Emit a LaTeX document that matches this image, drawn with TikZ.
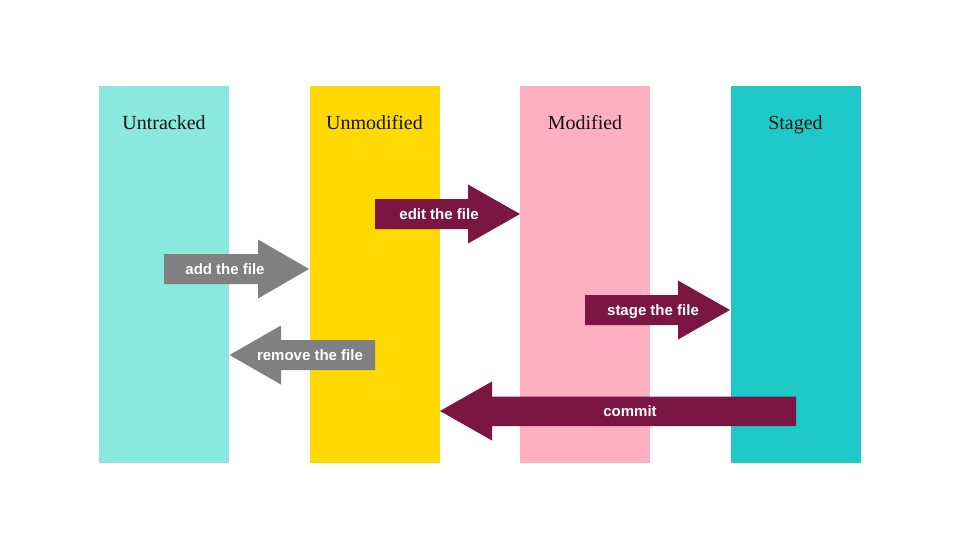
\documentclass[tikz,border=0pt]{standalone}
\usepackage{fontspec}
\setmainfont{Liberation Serif}
\newfontfamily\labfont{Liberation Sans}
\definecolor{cUntracked}{HTML}{88E9DC}
\definecolor{cUnmod}{HTML}{FFD900}
\definecolor{cMod}{HTML}{FFAFC2}
\definecolor{cStaged}{HTML}{1EC9C8}
\definecolor{cMaroon}{HTML}{7B1642}
\definecolor{cGray}{HTML}{808080}
\definecolor{cTitle}{HTML}{141414}
\begin{document}
\begin{tikzpicture}[x=1pt,y=-1pt,
  column/.style={rectangle,minimum width=130pt,minimum height=377pt,inner sep=0pt,draw=none},
  title/.style={font=\fontsize{20}{23}\selectfont,text=cTitle,inner sep=0pt,anchor=base},
  arrowlab/.style={font=\labfont\bfseries\fontsize{15}{17}\selectfont,text=white,inner sep=0pt,anchor=base},
  maroonarrow/.style={fill=cMaroon,draw=none},
  grayarrow/.style={fill=cGray,draw=none}]
\useasboundingbox (0,0) rectangle (960,550);
\fill[white] (0,0) rectangle (960,550);
% columns
\node[column,fill=cUntracked] (untracked) at (164,274.5) {};
\node[column,fill=cUnmod] (unmod) at (374.5,274.5) {};
\node[column,fill=cMod] (mod) at (585,274.5) {};
\node[column,fill=cStaged] (staged) at (795.5,274.5) {};
\node[title] (tUntracked) at (164,129.5) {Untracked};
\node[title] (tUnmod) at (374.5,129.5) {Unmodified};
\node[title] (tMod) at (585,129.5) {Modified};
\node[title] (tStaged) at (795.5,129.5) {Staged};
% add the file
\path[grayarrow] (164,254) -- (258,254) -- (258,239.5) -- (309,269) -- (258,298.5) -- (258,284) -- (164,284) -- cycle;
\node[arrowlab] (lAdd) at (225,274.3) {add the file};
% remove the file
\path[grayarrow] (375,340) -- (281,340) -- (281,325.5) -- (229.5,355) -- (281,384.5) -- (281,370) -- (375,370) -- cycle;
\node[arrowlab] (lRemove) at (310,360.3) {remove the file};
% edit the file
\path[maroonarrow] (375,199) -- (468,199) -- (468,184.5) -- (520,214) -- (468,243.5) -- (468,229) -- (375,229) -- cycle;
\node[arrowlab] (lEdit) at (439,219.3) {edit the file};
% stage the file
\path[maroonarrow] (585,295) -- (678,295) -- (678,280.5) -- (730,310) -- (678,339.5) -- (678,325) -- (585,325) -- cycle;
\node[arrowlab] (lStage) at (653,315.3) {stage the file};
% commit
\path[maroonarrow] (796,396.5) -- (492,396.5) -- (492,381.5) -- (440,411) -- (492,440.5) -- (492,426) -- (796,426) -- cycle;
\node[arrowlab] (lCommit) at (630,416.3) {commit};
\end{tikzpicture}
\end{document}
